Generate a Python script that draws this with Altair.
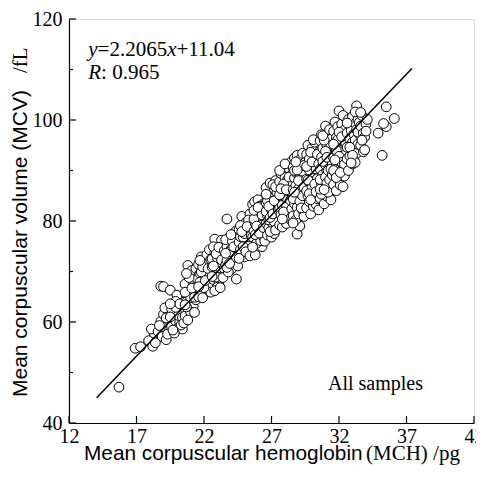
import altair as alt
import pandas as pd

# ---------------- data ----------------
points = [
    # isolated points
    (15.7, 47.1), (16.9, 54.8), (17.3, 55.1), (18.8, 67.1), (19.0, 67.0), (19.5, 66.3),
    (24.4, 68.5), (23.7, 80.4), (28.9, 77.4), (29.1, 79.0), (35.2, 93.0), (34.9, 97.4),
    (35.5, 102.6), (36.1, 100.3), (35.5, 98.7), (35.3, 99.3),
    # 17.5 - 18.5
    (17.9, 56.3), (18.2, 55.2), (18.4, 55.9), (18.3, 57.8), (18.1, 58.6),
    # 18.5 - 19.5
    (18.6, 58.1), (18.8, 60.1), (18.9, 57.1), (19.0, 61.5), (19.1, 59.0), (19.2, 56.5),
    (19.3, 62.3), (19.4, 60.4), (18.7, 59.3), (19.1, 62.8), (19.4, 58.2), (19.3, 57.6),
    (19.2, 60.8),
    # 19.5 - 20.5
    (19.6, 59.1), (19.7, 61.9), (19.8, 63.4), (19.9, 60.2), (20.0, 58.6), (20.1, 62.7),
    (20.2, 64.8), (20.3, 61.0), (20.4, 58.6), (20.5, 63.9), (19.6, 62.6), (19.8, 57.8),
    (20.0, 65.3), (20.2, 60.0), (20.4, 62.2), (19.9, 64.1), (20.3, 59.4), (20.1, 61.3),
    (19.5, 61.0), (19.7, 58.4), (19.9, 62.9), (20.2, 63.6), (20.4, 60.9), (20.5, 59.8),
    (19.5, 63.6),
    # 20.5 - 21.5
    (20.6, 61.2), (20.7, 64.0), (20.8, 66.9), (20.9, 62.6), (21.0, 68.1), (21.1, 65.2),
    (21.2, 63.1), (21.3, 69.9), (21.4, 66.3), (20.6, 67.5), (20.8, 71.2), (21.0, 62.0),
    (21.2, 67.6), (21.4, 64.4), (20.7, 63.0), (20.9, 65.8), (21.1, 70.2), (21.3, 61.9),
    (21.5, 68.5), (21.0, 64.9), (20.6, 65.9), (21.3, 66.8), (20.6, 63.4), (20.8, 60.4),
    (20.9, 68.8), (21.1, 66.7), (21.3, 64.9), (21.4, 70.6), (20.7, 69.6),
    # 21.5 - 22.5
    (21.6, 65.0), (21.7, 69.6), (21.8, 72.9), (21.9, 67.2), (22.0, 70.5), (22.1, 65.8),
    (22.2, 68.7), (22.3, 72.0), (22.4, 66.5), (22.5, 70.0), (21.6, 71.4), (21.8, 66.3),
    (22.0, 68.0), (22.2, 73.3), (22.4, 69.1), (21.7, 67.9), (21.9, 64.8), (22.1, 71.3),
    (22.3, 67.4), (22.5, 65.9), (22.0, 66.8), (21.8, 69.9), (21.6, 67.0), (21.9, 70.9),
    (22.1, 68.2), (22.3, 70.6), (22.5, 72.4), (21.7, 72.2), (22.4, 74.3),
    # 22.5 - 23.5
    (22.6, 72.5), (22.7, 68.4), (22.8, 76.4), (22.9, 70.3), (23.0, 74.1), (23.1, 67.5),
    (23.2, 72.8), (23.3, 69.4), (23.4, 75.6), (22.6, 70.9), (22.8, 73.8), (23.0, 66.9),
    (23.2, 70.7), (23.4, 73.2), (22.7, 74.9), (22.9, 68.9), (23.1, 71.9), (23.3, 76.2),
    (23.5, 70.6), (23.0, 72.6), (22.6, 69.0), (23.4, 68.8), (22.7, 71.1), (22.9, 73.5),
    (23.1, 74.8), (23.3, 72.3), (23.5, 74.1), (22.8, 66.2), (23.2, 66.8),
    # 23.5 - 24.5
    (23.6, 71.3), (23.7, 74.9), (23.8, 72.7), (23.9, 76.8), (24.0, 70.4), (24.1, 73.6),
    (24.2, 77.5), (24.3, 71.8), (24.4, 75.3), (24.5, 73.0), (23.6, 76.3), (23.8, 69.9),
    (24.0, 74.4), (24.2, 72.1), (24.4, 78.1), (23.7, 72.2), (23.9, 73.9), (24.1, 76.0),
    (24.3, 74.7), (24.5, 71.1), (23.7, 70.8), (23.9, 71.6), (23.6, 73.6), (24.0, 77.3),
    (24.2, 74.9), (24.4, 72.8),
    # 24.5 - 25.5
    (24.6, 75.8), (24.7, 76.9), (24.8, 73.3), (24.9, 79.0), (25.0, 74.8), (25.1, 77.6),
    (25.2, 80.6), (25.3, 73.6), (25.4, 78.4), (25.5, 75.9), (24.6, 78.3), (24.8, 80.9),
    (25.0, 72.9), (25.2, 76.2), (25.4, 81.4), (24.7, 74.3), (24.9, 76.8), (25.1, 79.7),
    (25.3, 75.0), (25.5, 78.9), (25.0, 77.5), (24.6, 72.6), (24.7, 79.1), (24.9, 74.9),
    (25.1, 73.9), (25.3, 80.2), (25.5, 77.1), (24.8, 77.9), (25.2, 78.9), (25.4, 73.1),
    # 25.5 - 26.5
    (25.6, 76.8), (25.6, 83.3), (25.75, 83.8), (25.8, 73.3), (25.8, 79.5), (25.9, 81.6),
    (26.0, 77.1), (26.0, 84.2), (26.1, 75.0), (26.1, 79.9), (26.2, 82.5), (26.3, 77.8),
    (26.3, 74.9), (26.4, 80.7), (26.4, 83.4), (26.5, 78.6), (25.7, 78.0), (25.9, 75.6),
    (26.0, 80.8), (26.2, 76.1), (26.2, 79.1), (26.5, 81.9), (25.7, 80.4), (26.1, 82.9),
    (26.4, 76.9), (25.8, 77.3), (25.7, 82.1), (25.9, 79.0), (26.1, 77.6), (26.3, 81.2),
    (26.5, 76.0), (25.6, 74.8), (26.0, 82.7), (26.4, 78.7),
    # 26.5 - 27.5
    (26.6, 79.5), (26.6, 83.6), (26.6, 86.6), (26.7, 77.2), (26.7, 81.1), (26.8, 84.7),
    (26.8, 78.7), (26.9, 82.4), (26.9, 87.5), (27.0, 76.8), (27.0, 80.4), (27.0, 85.1),
    (27.1, 79.3), (27.1, 83.0), (27.2, 86.3), (27.2, 77.5), (27.3, 81.7), (27.3, 84.2),
    (27.3, 88.0), (27.4, 79.0), (27.4, 82.8), (27.5, 86.0), (27.5, 80.1), (27.5, 84.6),
    (26.6, 81.9), (26.8, 80.2), (27.0, 82.2), (27.1, 87.2), (27.2, 79.9), (27.4, 85.7),
    (26.9, 77.9), (27.3, 78.2), (26.7, 84.0), (26.9, 80.7), (26.8, 82.9), (26.6, 85.3),
    (27.1, 81.4), (27.3, 86.8), (27.5, 82.2), (27.2, 84.0),
    # 27.5 - 28.5
    (27.6, 82.5), (27.6, 87.8), (27.6, 79.2), (27.7, 84.9), (27.7, 89.4), (27.7, 81.2),
    (27.8, 86.7), (27.8, 78.8), (27.9, 83.5), (27.9, 90.2), (27.9, 80.7), (28.0, 85.6),
    (28.0, 88.6), (28.0, 82.0), (28.1, 79.5), (28.1, 84.0), (28.1, 91.0), (28.2, 86.9),
    (28.2, 81.3), (28.2, 88.2), (28.3, 83.0), (28.3, 85.3), (28.3, 90.4), (28.4, 80.3),
    (28.4, 87.3), (28.4, 82.6), (28.5, 84.8), (28.5, 89.2), (28.5, 91.8), (27.6, 85.2),
    (27.8, 83.1), (28.0, 80.8), (28.2, 84.1), (28.4, 86.0), (27.9, 87.3), (28.1, 82.7),
    (27.7, 86.4), (27.9, 81.8), (28.1, 86.2), (28.3, 88.7), (28.5, 82.4), (27.6, 90.0),
    (28.0, 91.3), (28.4, 84.1), (27.8, 80.4),
    # 28.5 - 29.5
    (28.6, 81.0), (28.6, 86.2), (28.6, 90.6), (28.7, 83.4), (28.7, 88.5), (28.7, 92.5),
    (28.8, 80.2), (28.8, 85.1), (28.8, 89.6), (28.9, 82.7), (28.9, 87.2), (28.9, 93.0),
    (29.0, 84.3), (29.0, 90.3), (29.0, 81.4), (29.1, 86.0), (29.1, 88.9), (29.1, 92.1),
    (29.2, 83.6), (29.2, 85.9), (29.2, 90.8), (29.3, 82.1), (29.3, 87.6), (29.3, 93.4),
    (29.4, 84.9), (29.4, 89.1), (29.4, 80.9), (29.5, 86.8), (29.5, 91.6), (29.5, 83.1),
    (28.6, 84.4), (28.8, 87.0), (29.0, 86.4), (29.2, 88.0), (29.4, 91.0), (28.7, 90.0),
    (29.1, 83.9), (29.3, 85.0), (28.7, 85.7), (28.9, 90.1), (28.8, 91.7), (29.0, 88.0),
    (29.2, 82.6), (29.4, 86.7), (28.6, 79.6),
    # 29.5 - 30.5
    (29.6, 82.6), (29.6, 88.3), (29.6, 93.2), (29.7, 85.0), (29.7, 90.6), (29.7, 95.0),
    (29.8, 83.8), (29.8, 87.7), (29.8, 92.3), (29.9, 81.4), (29.9, 86.5), (29.9, 90.1),
    (30.0, 84.3), (30.0, 88.9), (30.0, 94.4), (30.1, 82.9), (30.1, 87.0), (30.1, 91.7),
    (30.2, 85.6), (30.2, 89.5), (30.2, 95.6), (30.3, 83.3), (30.3, 88.1), (30.3, 92.9),
    (30.4, 86.2), (30.4, 90.8), (30.4, 84.4), (30.5, 89.0), (30.5, 93.6), (30.5, 82.2),
    (29.6, 86.0), (29.8, 90.1), (30.0, 86.8), (30.2, 92.0), (30.4, 88.4), (29.7, 88.1),
    (29.9, 93.6), (30.1, 85.0), (30.3, 90.3), (30.5, 86.6), (29.6, 90.8), (29.8, 85.4),
    (30.0, 91.7), (30.2, 87.3), (30.4, 93.2), (30.1, 96.1), (30.5, 91.3), (29.9, 84.2),
    (30.3, 85.8),
    # 30.5 - 31.5
    (30.6, 84.5), (30.6, 90.3), (30.6, 95.9), (30.7, 87.4), (30.7, 92.6), (30.7, 97.1),
    (30.8, 85.6), (30.8, 89.2), (30.8, 94.4), (30.9, 83.4), (30.9, 88.0), (30.9, 92.0),
    (31.0, 86.3), (31.0, 91.1), (31.0, 98.8), (31.1, 84.9), (31.1, 89.8), (31.1, 95.0),
    (31.2, 87.6), (31.2, 93.1), (31.2, 97.6), (31.3, 85.4), (31.3, 90.5), (31.3, 95.8),
    (31.4, 88.5), (31.4, 92.9), (31.4, 84.2), (31.5, 91.4), (31.5, 96.4), (31.5, 86.9),
    (30.6, 88.2), (30.8, 91.8), (31.0, 88.7), (31.2, 90.0), (31.4, 94.9), (30.7, 85.3),
    (30.9, 96.0), (31.1, 87.5), (31.3, 88.2), (31.5, 89.1), (30.6, 86.3), (30.8, 96.9),
    (31.0, 93.8), (31.2, 85.7), (31.4, 90.3), (30.9, 86.2), (31.3, 98.1), (31.1, 92.6),
    # 31.5 - 32.5
    (31.6, 87.2), (31.6, 92.5), (31.6, 97.8), (31.7, 89.6), (31.7, 94.7), (31.7, 99.6),
    (31.8, 86.0), (31.8, 91.3), (31.8, 96.5), (31.9, 88.3), (31.9, 93.4), (31.9, 98.7),
    (32.0, 90.1), (32.0, 95.3), (32.0, 101.8), (32.1, 87.1), (32.1, 92.2), (32.1, 97.0),
    (32.2, 89.4), (32.2, 94.0), (32.2, 99.2), (32.3, 91.1), (32.3, 96.1), (32.3, 86.8),
    (32.4, 93.0), (32.4, 98.0), (32.4, 88.9), (32.5, 95.1), (32.5, 100.4), (32.5, 90.7),
    (31.6, 90.0), (31.8, 94.0), (32.0, 92.8), (32.2, 91.6), (32.4, 95.8), (31.9, 96.1),
    (31.6, 95.2), (31.8, 88.6), (31.7, 92.1), (32.0, 97.6), (32.2, 96.7), (32.4, 91.2),
    (32.1, 89.6), (32.3, 100.9),
    # 32.5 - 33.5
    (32.6, 92.3), (32.6, 97.4), (32.7, 94.8), (32.7, 100.1), (32.7, 90.0), (32.8, 96.3),
    (32.8, 99.0), (32.8, 92.9), (32.9, 94.2), (32.9, 97.9), (33.0, 91.3), (33.0, 95.6),
    (33.0, 100.7), (33.1, 92.0), (33.1, 97.2), (33.1, 94.4), (33.2, 99.3), (33.2, 96.0),
    (33.3, 102.8), (33.3, 93.4), (33.3, 98.1), (33.4, 95.2), (33.4, 100.0), (33.5, 97.2),
    (32.6, 94.6), (33.2, 91.6), (32.6, 99.4), (32.8, 94.6), (33.0, 93.0), (33.2, 101.6),
    (33.4, 97.6), (32.9, 91.5), (33.5, 99.5),
    # 33.5 - 34.5
    (33.6, 98.8), (33.6, 95.0), (33.7, 100.9), (33.8, 97.4), (33.8, 93.7), (33.9, 94.1),
    (33.9, 96.6), (34.0, 99.2), (34.1, 100.1), (34.0, 97.8), (33.7, 96.0), (33.6, 101.5),
]
mch = [p[0] for p in points]
mcv = [p[1] for p in points]

# fitted line as drawn
line_mch = [14.05, 37.4]
line_mcv = [45.0, 110.2]

# axis ticks
x_ticks = [12, 17, 22, 27, 32, 37, 42]
y_major = [40, 60, 80, 100, 120]
y_minor = [50, 70, 90, 110]

W, H = 405, 404
SERIF = "Liberation Serif"
SANS = "Liberation Sans"

xscale = alt.Scale(domain=[12, 42], nice=False, zero=False)
yscale = alt.Scale(domain=[40, 120], nice=False, zero=False)
xaxis = alt.Axis(values=x_ticks, ticks=False, grid=False, title=None, labelFont=SERIF,
                 labelFontSize=20, labelColor="black", labelPadding=3, domainColor="black",
                 domainWidth=1.2, labelFlush=False, labelOverlap=False)
yaxis = alt.Axis(values=y_major, ticks=False, grid=False, title=None, labelFont=SERIF,
                 labelFontSize=20, labelColor="black", labelPadding=7, domainColor="black",
                 domainWidth=1.2, labelFlush=False, labelOverlap=False)

def X(f="mch"):
    return alt.X(f"{f}:Q", scale=xscale, axis=xaxis)

def Y(f="mcv"):
    return alt.Y(f"{f}:Q", scale=yscale, axis=yaxis)

pts = alt.Chart(pd.DataFrame({"mch": mch, "mcv": mcv})).mark_circle(
    fill="white", stroke="black", strokeWidth=1.0, size=95, opacity=1
).encode(x=X(), y=Y())

fit = alt.Chart(pd.DataFrame({"mch": line_mch, "mcv": line_mcv})).mark_line(
    color="black", strokeWidth=1.5
).encode(x=X(), y=Y())

ytick_major = alt.Chart(pd.DataFrame({"mcv": y_major})).mark_rule(
    color="black", strokeWidth=1.2
).encode(y=Y(), x=alt.value(0), x2=alt.value(7))

ytick_minor = alt.Chart(pd.DataFrame({"mcv": y_minor})).mark_rule(
    color="black", strokeWidth=1.2
).encode(y=Y(), x=alt.value(0), x2=alt.value(4))

xtick = alt.Chart(pd.DataFrame({"mch": x_ticks})).mark_rule(
    color="black", strokeWidth=1.2
).encode(x=X(), y=alt.value(H), y2=alt.value(H - 7))

def txt(s, px, py, font, size, style="normal", angle=0, align="left"):
    kw = dict(font=font, fontSize=size, fontStyle=style, align=align,
              baseline="alphabetic", color="black")
    if angle:
        kw["angle"] = angle
    return alt.Chart(pd.DataFrame({"t": [s]})).mark_text(**kw).encode(
        x=alt.value(px), y=alt.value(py), text="t:N")

eq_y = 37
r_y = 60
annotations = [
    txt("y", 19.3, eq_y, SERIF, 21, "italic"),
    txt("=2.2065", 28.6, eq_y, SERIF, 21),
    txt("x", 98.2, eq_y, SERIF, 21, "italic"),
    txt("+11.04", 107.5, eq_y, SERIF, 21),
    txt("R", 19.3, r_y, SERIF, 21, "italic"),
    txt(": 0.965", 32.1, r_y, SERIF, 21),
    txt("All samples", 259, 371, SERIF, 20),
    txt("Mean corpuscular hemoglobin", 15, 441, SANS, 20.8),
    txt("(MCH) /pg", 297, 441, SERIF, 21),
    txt("Mean corpuscular volume (MCV)", -42, 378, SANS, 21, angle=270),
    txt("/fL", -42, 54, SERIF, 21, angle=270),
]

chart = alt.layer(pts, fit, ytick_major, ytick_minor, xtick, *annotations).properties(
    width=W, height=H,
    padding={"left": 61, "top": 11, "right": 2, "bottom": 45},
    autosize=alt.AutoSizeParams(type="none"),
).configure_view(stroke=None).configure(background="white")

chart.save("out.html", embed_options={"renderer": "svg", "actions": False})
